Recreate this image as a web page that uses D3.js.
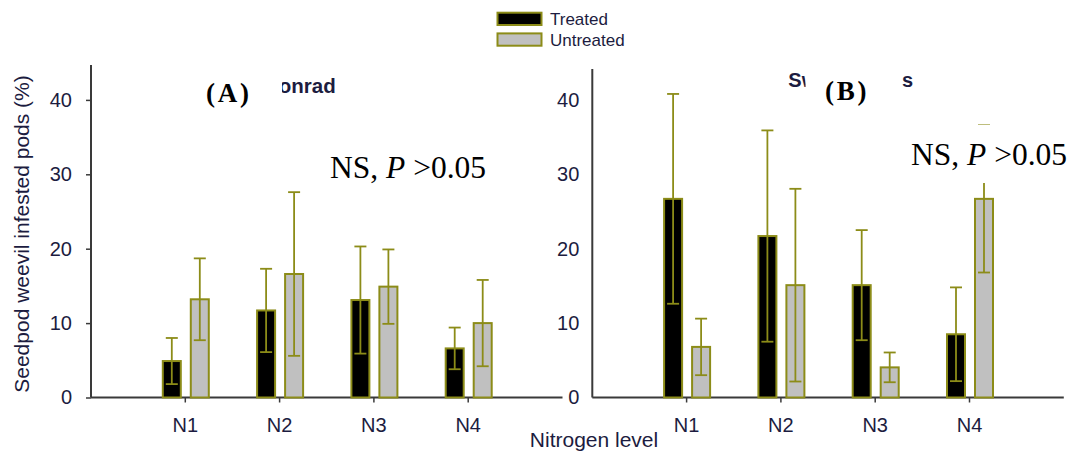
<!DOCTYPE html>
<html>
<head>
<meta charset="utf-8">
<script src="https://cdn.jsdelivr.net/npm/d3@7"></script>
<style>
  body { margin: 0; background: #fff; }
  svg { display: block; }
  .tick text { font-family: Arial, "Liberation Sans", sans-serif; fill: #1c1c40; }
</style>
</head>
<body>
<div id="chart"></div>
<script>
// values (% infested pods, mean and error)
var categories = ["N1", "N2", "N3", "N4"];
var yTicks = [0, 10, 20, 30, 40];

var conradTreated       = [4.9, 11.7, 13.1, 6.6];
var conradTreatedErr    = [3.1, 5.6, 7.2, 2.8];
var conradUntreated     = [13.2, 16.6, 14.9, 10.0];
var conradUntreatedErr  = [5.5, 11.0, 5.0, 5.8];

var swTreated       = [26.7, 21.7, 15.1, 8.5];
var swTreatedErr    = [14.1, 14.2, 7.4, 6.3];
var swUntreated     = [6.8, 15.1, 4.05, 26.7];
var swUntreatedErr  = [3.8, 12.95, 2.0, 9.9];

var legendLabels = ["Treated", "Untreated"];

var width = 1069, height = 451
  , olive = "#8c8c18"
  , ink = "#1c1c40"
  , sans = "Arial, 'Liberation Sans', sans-serif"
  , serif = "'Times New Roman', 'Liberation Serif', serif"
  , svg = d3.select("#chart").append("svg").attr("width", width).attr("height", height);

var defs = svg.append("defs");

// y is shared by both panels
var y = d3.scaleLinear().domain([0, 45]).range([397.5, 62.7]);

function panel(opt) {
    var g = svg.append("g")
      , step = 94.3
      , x = d3.scaleBand().domain(categories).range([opt.x0 + step / 2, opt.x0 + step * 4.5])
      , barW = 18;

    // axes
    g.append("line").attr("x1", opt.x0).attr("x2", opt.x0)
        .attr("y1", y(0)).attr("y2", opt.top)
        .attr("stroke", "#3a3a3a").attr("stroke-width", 2);
    g.append("line").attr("x1", opt.x0).attr("x2", opt.x0 + step * 5)
        .attr("y1", y(0)).attr("y2", y(0))
        .attr("stroke", "#3a3a3a").attr("stroke-width", 2);

    var ya = g.append("g").attr("transform", "translate(" + opt.x0 + ",0)")
        .call(d3.axisLeft(y).tickValues(yTicks).tickSize(opt.yTick).tickPadding(opt.yPad));
    ya.select(".domain").remove();
    ya.selectAll(".tick line").attr("stroke", "#3a3a3a").attr("stroke-width", 1.5);
    ya.selectAll(".tick text").attr("font-size", 20).attr("fill", ink);

    var xa = g.append("g").attr("transform", "translate(0," + y(0) + ")")
        .call(d3.axisBottom(x).tickSize(5).tickPadding(15));
    xa.select(".domain").remove();
    xa.selectAll(".tick line").attr("stroke", "#3a3a3a").attr("stroke-width", 1.5);
    xa.selectAll(".tick text").attr("font-size", 20).attr("fill", ink);

    function series(vals, errs, fill, dx) {
        var cx = function (i) { return x(categories[i]) + x.bandwidth() / 2 + dx; };
        var s = g.append("g");
        s.selectAll("rect").data(vals).enter().append("rect")
            .attr("x", function (d, i) { return cx(i) - barW / 2; })
            .attr("y", function (d) { return y(d); })
            .attr("width", barW)
            .attr("height", function (d) { return y(0) - y(d); })
            .attr("fill", fill).attr("stroke", olive).attr("stroke-width", 2);
        var e = s.selectAll("g.err").data(vals).enter().append("g").attr("class", "err")
            .attr("stroke", olive).attr("stroke-width", 1.8);
        e.append("line")
            .attr("x1", function (d, i) { return cx(i); }).attr("x2", function (d, i) { return cx(i); })
            .attr("y1", function (d, i) { return y(d - errs[i]); })
            .attr("y2", function (d, i) { return y(d + errs[i]); });
        [1, -1].forEach(function (sg) {
            e.append("line")
                .attr("x1", function (d, i) { return cx(i) - 6; }).attr("x2", function (d, i) { return cx(i) + 6; })
                .attr("y1", function (d, i) { return y(d + sg * errs[i]); })
                .attr("y2", function (d, i) { return y(d + sg * errs[i]); });
        });
    }
    series(opt.treated, opt.treatedErr, "#000", -13.5);
    series(opt.untreated, opt.untreatedErr, "#c0c0c0", 14.5);
    return g;
}

var gA = panel({ x0: 91, top: 65, yTick: 5, yPad: 14,
    treated: conradTreated, treatedErr: conradTreatedErr,
    untreated: conradUntreated, untreatedErr: conradUntreatedErr });

var gB = panel({ x0: 592.3, top: 69, yTick: 0, yPad: 13,
    treated: swTreated, treatedErr: swTreatedErr,
    untreated: swUntreated, untreatedErr: swUntreatedErr });

// panel titles, partly hidden under the (A)/(B) boxes
defs.append("clipPath").attr("id", "clipA").append("rect")
    .attr("x", 282).attr("y", 60).attr("width", 80).attr("height", 40);
gA.append("text").attr("x", 264).attr("y", 93.3)
    .attr("clip-path", "url(#clipA)")
    .attr("font-family", sans).attr("font-weight", "bold").attr("font-size", 20.5)
    .attr("fill", ink).text("Conrad");

defs.append("clipPath").attr("id", "clipB").append("rect")
    .attr("x", 780).attr("y", 60).attr("width", 25.5).attr("height", 40);
gB.append("text").attr("x", 788.3).attr("y", 86.7)
    .attr("clip-path", "url(#clipB)")
    .attr("font-family", sans).attr("font-weight", "bold").attr("font-size", 20)
    .attr("fill", ink).text("Sw");
gB.append("text").attr("x", 902).attr("y", 86.7)
    .attr("font-family", sans).attr("font-weight", "bold").attr("font-size", 20)
    .attr("fill", ink).text("s");

gA.append("text").attr("x", 206).attr("y", 101.5)
    .attr("font-family", serif).attr("font-weight", "bold").attr("font-size", 27)
    .attr("letter-spacing", 2.8).attr("fill", "#000").text("(A)");
gB.append("text").attr("x", 825).attr("y", 99.5)
    .attr("font-family", serif).attr("font-weight", "bold").attr("font-size", 27)
    .attr("letter-spacing", 2.8).attr("fill", "#000").text("(B)");

// significance notes; the B one sits on a white box over the N4 error bar
var capB = y(swUntreated[3] + swUntreatedErr[3]);
gB.append("rect").attr("x", 905).attr("y", capB - 0.4)
    .attr("width", 164).attr("height", 183 - capB + 0.4)
    .attr("fill", "#fff");

function nsNote(g, x0, yb) {
    var t = g.append("text").attr("x", x0).attr("y", yb)
        .attr("font-family", serif).attr("font-size", 31.5).attr("fill", "#000");
    t.append("tspan").text("NS, ");
    t.append("tspan").attr("font-style", "italic").text("P");
    t.append("tspan").text(" >0.05");
}
nsNote(gA, 330, 177.5);
nsNote(gB, 911, 165);

// axis titles
svg.append("text").attr("transform", "translate(29,234) rotate(-90)")
    .attr("text-anchor", "middle").attr("font-family", sans).attr("font-size", 21)
    .attr("fill", ink).text("Seedpod weevil infested pods (%)");
svg.append("text").attr("x", 594).attr("y", 446.5)
    .attr("text-anchor", "middle").attr("font-family", sans).attr("font-size", 21)
    .attr("fill", ink).text("Nitrogen level");

// legend
var lg = svg.append("g").attr("transform", "translate(497.5,12.7)");
var li = lg.selectAll("g").data(legendLabels).enter().append("g")
    .attr("transform", function (d, i) { return "translate(0," + i * 20.7 + ")"; });
li.append("rect").attr("width", 44).attr("height", 12.3)
    .attr("fill", function (d, i) { return i ? "#c0c0c0" : "#000"; })
    .attr("stroke", olive).attr("stroke-width", 2);
li.append("text").attr("x", 52.5).attr("y", 12.5)
    .attr("font-family", sans).attr("font-size", 17).attr("fill", ink)
    .text(function (d) { return d; });
</script>
</body>
</html>
